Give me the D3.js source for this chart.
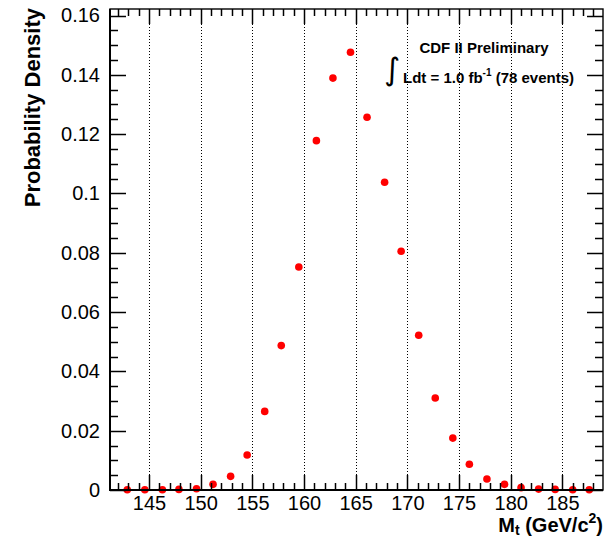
<!DOCTYPE html>
<html>
<head>
<meta charset="utf-8">
<script src="https://cdn.jsdelivr.net/npm/d3@7"></script>
<style>
  html, body { margin: 0; padding: 0; background: #fff; }
  svg { display: block; font-family: "Liberation Sans", Arial, Helvetica, sans-serif; }
</style>
</head>
<body>
<svg id="chart" width="608" height="539"></svg>
<script>
// ---- data ----
const mass = [142.9, 144.6, 146.3, 147.9, 149.6, 151.2, 152.9, 154.5, 156.2, 157.8,
              159.5, 161.2, 162.8, 164.5, 166.1, 167.8, 169.4, 171.1, 172.7, 174.4,
              176.0, 177.7, 179.4, 181.0, 182.7, 184.3, 186.0, 187.6];
const density = [0.0001, 0.0001, 0.0001, 0.0002, 0.0004, 0.0019, 0.0046, 0.0118, 0.0265, 0.0487,
                 0.0752, 0.1178, 0.1389, 0.1476, 0.1257, 0.1038, 0.0805, 0.0522, 0.0310, 0.0175,
                 0.0087, 0.0037, 0.0019, 0.0008, 0.0003, 0.0002, 0.0001, 0.0001];
const xMajorTicks = [145, 150, 155, 160, 165, 170, 175, 180, 185];
const xTickLabels = ["145", "150", "155", "160", "165", "170", "175", "180", "185"];
const yMajorTicks = [0, 0.02, 0.04, 0.06, 0.08, 0.10, 0.12, 0.14, 0.16];
const yTickLabels = ["0", "0.02", "0.04", "0.06", "0.08", "0.1", "0.12", "0.14", "0.16"];
const xDomain = [141.23, 188.93];
const yDomain = [0, 0.1622];

// ---- layout ----
const svg = d3.select("#chart");
const L = 110, R = 603, T = 9, B = 490;

svg.append("rect").attr("width", 608).attr("height", 539).attr("fill", "#fff");

const x = d3.scaleLinear().domain(xDomain).range([L, R]);
const y = d3.scaleLinear().domain(yDomain).range([B, T]);

const xMinor = d3.range(142, 189, 1).filter(v => !xMajorTicks.includes(v));
const yMinor = d3.range(0, 0.1621, 0.005).map(v => +v.toFixed(3))
                 .filter(v => !yMajorTicks.some(m => Math.abs(m - v) < 1e-9));

// grid (vertical dotted lines at x majors)
svg.append("g").selectAll("line").data(xMajorTicks).join("line")
  .attr("x1", d => Math.round(x(d)) + 0.5).attr("x2", d => Math.round(x(d)) + 0.5)
  .attr("y1", B).attr("y2", T)
  .attr("stroke", "#000").attr("stroke-width", 1).attr("stroke-dasharray", "1,2");

// axis labels via d3 axes
svg.append("g").attr("transform", `translate(0,${B})`)
  .call(d3.axisBottom(x).tickValues(xMajorTicks).tickSize(0).tickPadding(6)
        .tickFormat((d, i) => xTickLabels[i]))
  .call(g => g.select(".domain").remove())
  .call(g => g.selectAll("line").remove())
  .call(g => g.selectAll("text").attr("font-size", 20).attr("fill", "#000")
        .attr("font-family", "Liberation Sans, Arial, sans-serif"));

svg.append("g").attr("transform", `translate(${L},0)`)
  .call(d3.axisLeft(y).tickValues(yMajorTicks).tickSize(0).tickPadding(10)
        .tickFormat((d, i) => yTickLabels[i]))
  .call(g => g.select(".domain").remove())
  .call(g => g.selectAll("line").remove())
  .call(g => g.selectAll("text").attr("font-size", 20).attr("fill", "#000")
        .attr("font-family", "Liberation Sans, Arial, sans-serif"));

// points
svg.append("g").selectAll("circle").data(mass).join("circle")
  .attr("cx", d => x(d))
  .attr("cy", (d, i) => y(density[i]))
  .attr("r", 3.8)
  .attr("fill", "#ff0000");

// axis titles
svg.append("text")
  .attr("transform", `translate(40,${T - 1}) rotate(-90)`)
  .attr("text-anchor", "end")
  .attr("font-size", 22).attr("font-weight", "bold")
  .text("Probability Density");

const xt = svg.append("text")
  .attr("x", R).attr("y", 531.5)
  .attr("text-anchor", "end")
  .attr("font-size", 20).attr("font-weight", "bold");
xt.append("tspan").text("M");
xt.append("tspan").attr("font-size", 14).attr("dy", 3).text("t");
xt.append("tspan").attr("dy", -3).text(" (GeV/c");
xt.append("tspan").attr("font-size", 14).attr("dy", -9).text("2");
xt.append("tspan").attr("dy", 9).text(")");

// annotation
svg.append("text")
  .attr("x", 484).attr("y", 53)
  .attr("text-anchor", "middle")
  .attr("font-size", 15).attr("font-weight", "bold")
  .text("CDF II Preliminary");

svg.append("text")
  .attr("x", 392).attr("y", 80)
  .attr("text-anchor", "middle")
  .attr("font-size", 31)
  .attr("font-family", "DejaVu Sans, sans-serif")
  .text("∫");

const lt = svg.append("text")
  .attr("x", 403).attr("y", 83)
  .attr("font-size", 15).attr("font-weight", "bold");
lt.append("tspan").text("Ldt = 1.0 fb");
lt.append("tspan").attr("font-size", 10).attr("dy", -7).text("-1");
lt.append("tspan").attr("dy", 7).text(" (78 events)");

// frame
svg.append("rect").attr("x", L).attr("y", T).attr("width", R - L).attr("height", B - T)
  .attr("fill", "none").attr("stroke", "#000").attr("stroke-width", 1.4);
svg.append("line").attr("x1", L - 1).attr("x2", R).attr("y1", B).attr("y2", B)
  .attr("stroke", "#000").attr("stroke-width", 2.2);
svg.append("line").attr("x1", L).attr("x2", L).attr("y1", T).attr("y2", B + 1)
  .attr("stroke", "#000").attr("stroke-width", 2);

// inward tick marks on all four sides, drawn last (on top of everything)
const tickLayer = svg.append("g").attr("class", "ticklayer");
function vTicks(vals, len) {
  tickLayer.append("g").selectAll("line").data(vals).join("line")
    .attr("x1", d => Math.round(x(d)) + 0.5).attr("x2", d => Math.round(x(d)) + 0.5)
    .attr("y1", B).attr("y2", B - len)
    .attr("stroke", "#000").attr("stroke-width", 1.5);
  tickLayer.append("g").selectAll("line").data(vals).join("line")
    .attr("x1", d => Math.round(x(d)) + 0.5).attr("x2", d => Math.round(x(d)) + 0.5)
    .attr("y1", T).attr("y2", T + len)
    .attr("stroke", "#000").attr("stroke-width", 1.5);
}
function hTicks(vals, len) {
  tickLayer.append("g").selectAll("line").data(vals).join("line")
    .attr("y1", d => Math.round(y(d)) + 0.5).attr("y2", d => Math.round(y(d)) + 0.5)
    .attr("x1", L).attr("x2", L + len)
    .attr("stroke", "#000").attr("stroke-width", 1.5);
  tickLayer.append("g").selectAll("line").data(vals).join("line")
    .attr("y1", d => Math.round(y(d)) + 0.5).attr("y2", d => Math.round(y(d)) + 0.5)
    .attr("x1", R).attr("x2", R - len)
    .attr("stroke", "#000").attr("stroke-width", 1.5);
}
vTicks(xMajorTicks, 15);
vTicks(xMinor, 7);
hTicks(yMajorTicks, 16);
hTicks(yMinor, 8);
</script>
</body>
</html>
